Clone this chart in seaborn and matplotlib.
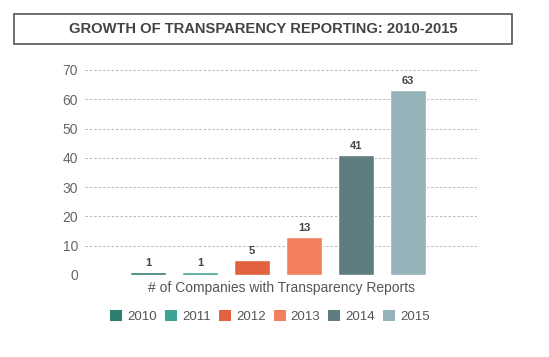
import matplotlib
matplotlib.use("Agg")
import matplotlib.pyplot as plt
import seaborn as sns
import pandas as pd
from matplotlib.patches import Rectangle, Patch

years = ["2010", "2011", "2012", "2013", "2014", "2015"]
companies = [1, 1, 5, 13, 41, 63]
colors = ["#2f7d6f", "#3fa393", "#e2623f", "#f27f5f", "#5f7c80", "#95b3b8"]
yticks = [0, 10, 20, 30, 40, 50, 60, 70]

df = pd.DataFrame({"year": years, "companies": companies})

sns.set_style("white")
plt.rcParams["font.family"] = ["Liberation Sans", "DejaVu Sans"]

fig = plt.figure(figsize=(5.49, 3.57), dpi=100)
ax = fig.add_axes([0.155, 0.2297, 0.714, 0.5743])

sns.barplot(data=df, x="year", y="companies", hue="year", palette=colors,
            order=years, hue_order=years, width=0.7, dodge=False,
            legend=False, ax=ax, saturation=1)

for c in ax.containers:
    ax.bar_label(c, padding=3, fontsize=8, fontweight="bold", color="#444444")

ax.set_ylim(0, 70)
ax.set_yticks(yticks)
ax.set_yticklabels([str(t) for t in yticks], color="#666666", fontsize=10)
ax.set_xlim(-1.21, 6.33)
ax.set_xticks([])
ax.set_xlabel("# of Companies with Transparency Reports", fontsize=10,
              color="#555555", labelpad=4)
ax.set_ylabel("")
ax.yaxis.grid(True, linestyle=(0, (2.5, 2)), color="#b5b5b5", linewidth=0.7)
ax.set_axisbelow(True)
for s in ax.spines.values():
    s.set_visible(False)
ax.tick_params(axis="y", length=0, pad=5)

handles = [Patch(facecolor=c, edgecolor="none", label=y) for y, c in zip(years, colors)]
leg = fig.legend(handles=handles, loc="center", bbox_to_anchor=(0.492, 0.113), ncol=6,
                 frameon=False, fontsize=9.5, handlelength=0.9, handleheight=0.9,
                 handletextpad=0.4, columnspacing=0.6)
for t in leg.get_texts():
    t.set_color("#555555")

fig.patches.append(Rectangle((0.0255, 0.8768), 0.9071, 0.084, transform=fig.transFigure,
                             facecolor="white", edgecolor="#555555", linewidth=1.2))
fig.text(0.479, 0.9188, "GROWTH OF TRANSPARENCY REPORTING: 2010-2015", ha="center",
         va="center", fontsize=10.6, fontweight="bold", color="#444444")

fig.savefig("out.png", dpi=100)
